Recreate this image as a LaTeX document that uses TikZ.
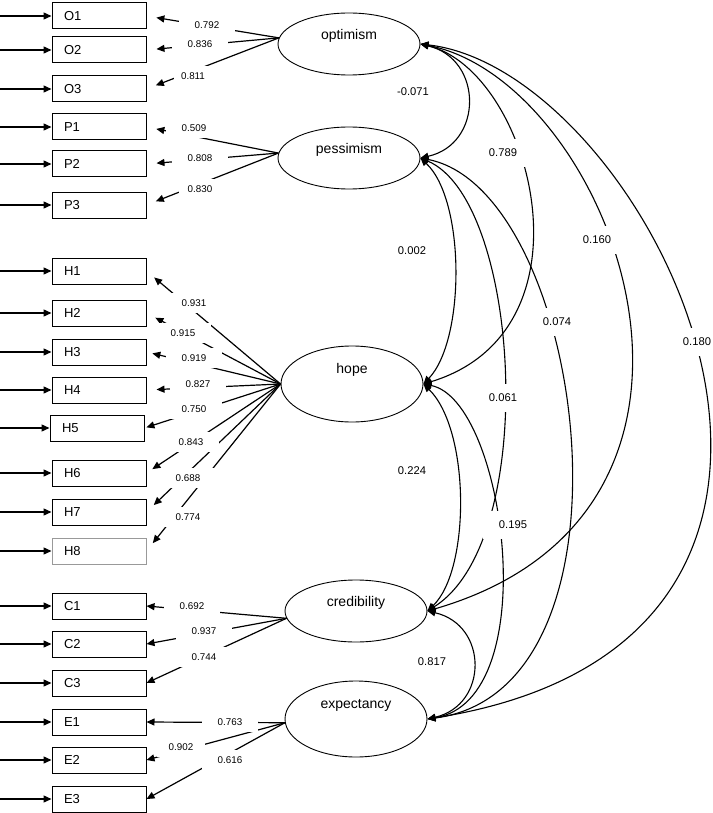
\documentclass[tikz,border=0pt]{standalone}
\usepackage{fontspec}
\setmainfont{Liberation Sans}
\usepackage{tikz}
\usetikzlibrary{arrows.meta,shapes.geometric}
\tikzset{>={Triangle[length=8pt,width=7pt]}}
\tikzset{
  ind/.style={draw,line width=1pt,minimum height=26pt,text width=70pt,inner xsep=12pt,align=left,font=\fontsize{13}{15}\selectfont},
  latent/.style={draw,ellipse,line width=0.9pt,minimum width=142pt,minimum height=62pt,inner sep=0pt,text height=10pt,text depth=19pt,font=\fontsize{14}{16}\selectfont},
  latentbig/.style={minimum height=76pt,text depth=31pt},
  err/.style={->,line width=1.4pt},
  ld/.style={->,line width=1.2pt,shorten >=10pt},
  cov/.style={<->,line width=1.1pt},
  load/.style={fill=white,inner xsep=16pt,inner ysep=7pt,font=\fontsize{9.8}{11}\selectfont},
  corr/.style={fill=white,inner xsep=16pt,inner ysep=10pt,font=\fontsize{11.2}{13}\selectfont}
}
\begin{document}
\begin{tikzpicture}[x=1pt,y=-1pt]
          \fill[white] (0,0) rectangle (712,813);
          \useasboundingbox (0,0) rectangle (712,813);

          % Factors
          \node[latent] at (349,44) (opt) {optimism};
          \node[latent] at (349,158) (pes) {pessimism};
          \node[latent,latentbig] at (352,384) (hope) {hope};
          \node[latent] at (356,611) (cred) {credibility};
          \node[latent,latentbig] at (356,719) (expc) {expectancy};

          % Items
          \node[ind] at (99,16) (O1) {O1};
          \node[ind] at (99,50) (O2) {O2};
          \node[ind] at (99,89) (O3) {O3};
          \node[ind] at (99,127) (P1) {P1};
          \node[ind] at (99,164) (P2) {P2};
          \node[ind] at (99,205) (P3) {P3};
          \node[ind] at (99,271) (H1) {H1};
          \node[ind] at (99,313) (H2) {H2};
          \node[ind] at (99,352) (H3) {H3};
          \node[ind] at (99,390) (H4) {H4};
          \node[ind] at (97,428) (H5) {H5};
          \node[ind] at (99,473) (H6) {H6};
          \node[ind] at (99,512) (H7) {H7};
          \node[ind,draw=black!40] at (99,551) (H8) {H8};
          \node[ind] at (99,606) (C1) {C1};
          \node[ind] at (99,644) (C2) {C2};
          \node[ind] at (99,683) (C3) {C3};
          \node[ind] at (99,722) (E1) {E1};
          \node[ind] at (99,760) (E2) {E2};
          \node[ind] at (99,799) (E3) {E3};

          % Error terms
          \coordinate (eO1) at (0,16);
          \coordinate (eO2) at (0,50);
          \coordinate (eO3) at (0,89);
          \coordinate (eP1) at (0,127);
          \coordinate (eP2) at (0,164);
          \coordinate (eP3) at (0,205);
          \coordinate (eH1) at (0,271);
          \coordinate (eH2) at (0,313);
          \coordinate (eH3) at (0,352);
          \coordinate (eH4) at (0,390);
          \coordinate (eH5) at (0,428);
          \coordinate (eH6) at (0,473);
          \coordinate (eH7) at (0,512);
          \coordinate (eH8) at (0,551);
          \coordinate (eC1) at (0,606);
          \coordinate (eC2) at (0,644);
          \coordinate (eC3) at (0,683);
          \coordinate (eE1) at (0,722);
          \coordinate (eE2) at (0,760);
          \coordinate (eE3) at (0,799);
          \draw[err] (eO1)--(O1);
          \draw[err] (eO2)--(O2);
          \draw[err] (eO3)--(O3);
          \draw[err] (eP1)--(P1);
          \draw[err] (eP2)--(P2);
          \draw[err] (eP3)--(P3);
          \draw[err] (eH1)--(H1);
          \draw[err] (eH2)--(H2);
          \draw[err] (eH3)--(H3);
          \draw[err] (eH4)--(H4);
          \draw[err] (eH5)--(H5);
          \draw[err] (eH6)--(H6);
          \draw[err] (eH7)--(H7);
          \draw[err] (eH8)--(H8);
          \draw[err] (eC1)--(C1);
          \draw[err] (eC2)--(C2);
          \draw[err] (eC3)--(C3);
          \draw[err] (eE1)--(E1);
          \draw[err] (eE2)--(E2);
          \draw[err] (eE3)--(E3);

          % Loadings
          \draw[ld] (opt.175)--(O1.east);
          \draw[ld] (opt.175)--(O2.east);
          \draw[ld] (opt.175)--(O3.east);
          \draw[ld] (pes.176)--(P1.east);
          \draw[ld] (pes.176)--(P2.east);
          \draw[ld] (pes.176)--(P3.east);
          \draw[ld] (hope.west)--(H1.east);
          \draw[ld] (hope.west)--(H2.east);
          \draw[ld,shorten >=6pt] (hope.west)--(H3.east);
          \draw[ld] (hope.west)--(H4.east);
          \draw[ld,shorten >=2pt] (hope.west)--(H5.east);
          \draw[ld,shorten >=7pt] (hope.west)--(H6.east);
          \draw[ld] (hope.west)--(H7.east);
          \draw[ld] (hope.west)--(H8.east);
          \draw[ld,shorten >=0pt] (cred.186)--(C1.east);
          \draw[ld,shorten >=0pt] (cred.186)--(C2.east);
          \draw[ld,shorten >=0pt] (cred.186)--(C3.east);
          \draw[ld,shorten >=0pt] (expc.183)--(E1.east);
          \draw[ld,shorten >=0pt] (expc.183)--(E2.east);
          \draw[ld,shorten >=0pt] (expc.183)--(E3.east);

          % Covariances
          \draw[cov] (opt.east) .. controls +(63,15) and +(63,-14) .. (pes.east);
          \draw[cov] (opt.east) .. controls +(110,26) and +(178,-54) .. (hope.east);
          \draw[cov] (opt.east) .. controls +(190,36) and +(348,-101) .. (cred.east);
          \draw[cov] (opt.east) .. controls +(230,26) and +(503,-79) .. (expc.east);
          \draw[cov] (pes.east) .. controls +(45,42) and +(42,-44) .. (hope.east);
          \draw[cov] (pes.east) .. controls +(100,42) and +(113,-71) .. (cred.east);
          \draw[cov] (pes.east) .. controls +(165,32) and +(223,-29) .. (expc.east);
          \draw[cov] (hope.east) .. controls +(47,46) and +(43,-41) .. (cred.east);
          \draw[cov] (hope.east) .. controls +(82,16) and +(118,-19) .. (expc.east);
          \draw[cov] (cred.east) .. controls +(61,14) and +(61,-14) .. (expc.east);

          % Loading values
          \node[load] at (207,25) (lO1) {0.792};
          \node[load] at (200,44) (lO2) {0.836};
          \node[load,inner xsep=7pt] at (193,76) (lO3) {0.811};
          \node[load] at (194,128) (lP1) {0.509};
          \node[load] at (200,158) (lP2) {0.808};
          \node[load,inner xsep=9pt] at (200,189) (lP3) {0.830};
          \node[load] at (194,303) (lH1) {0.931};
          \node[load] at (183,333) (lH2) {0.915};
          \node[load] at (194,358) (lH3) {0.919};
          \node[load] at (198,384) (lH4) {0.827};
          \node[load] at (194,409) (lH5) {0.750};
          \node[load] at (191,442) (lH6) {0.843};
          \node[load] at (188,478) (lH7) {0.688};
          \node[load] at (188,517) (lH8) {0.774};
          \node[load] at (192,606) (lC1) {0.692};
          \node[load] at (204,631) (lC2) {0.937};
          \node[load] at (204,657) (lC3) {0.744};
          \node[load] at (230,722) (lE1) {0.763};
          \node[load,inner xsep=12pt] at (181,747) (lE2) {0.902};
          \node[load] at (230,760) (lE3) {0.616};

          % Covariance values
          \node[corr] at (413,92) (k1) {-0.071};
          \node[corr] at (503,153) (k2) {0.789};
          \node[corr] at (597,240) (k3) {0.160};
          \node[corr] at (697,342) (k4) {0.180};
          \node[corr] at (412,251) (k5) {0.002};
          \node[corr] at (503,398) (k6) {0.061};
          \node[corr] at (557,322) (k7) {0.074};
          \node[corr] at (412,471) (k8) {0.224};
          \node[corr] at (513,525) (k9) {0.195};
          \node[corr] at (432,662) (k10) {0.817};

\end{tikzpicture}
\end{document}
